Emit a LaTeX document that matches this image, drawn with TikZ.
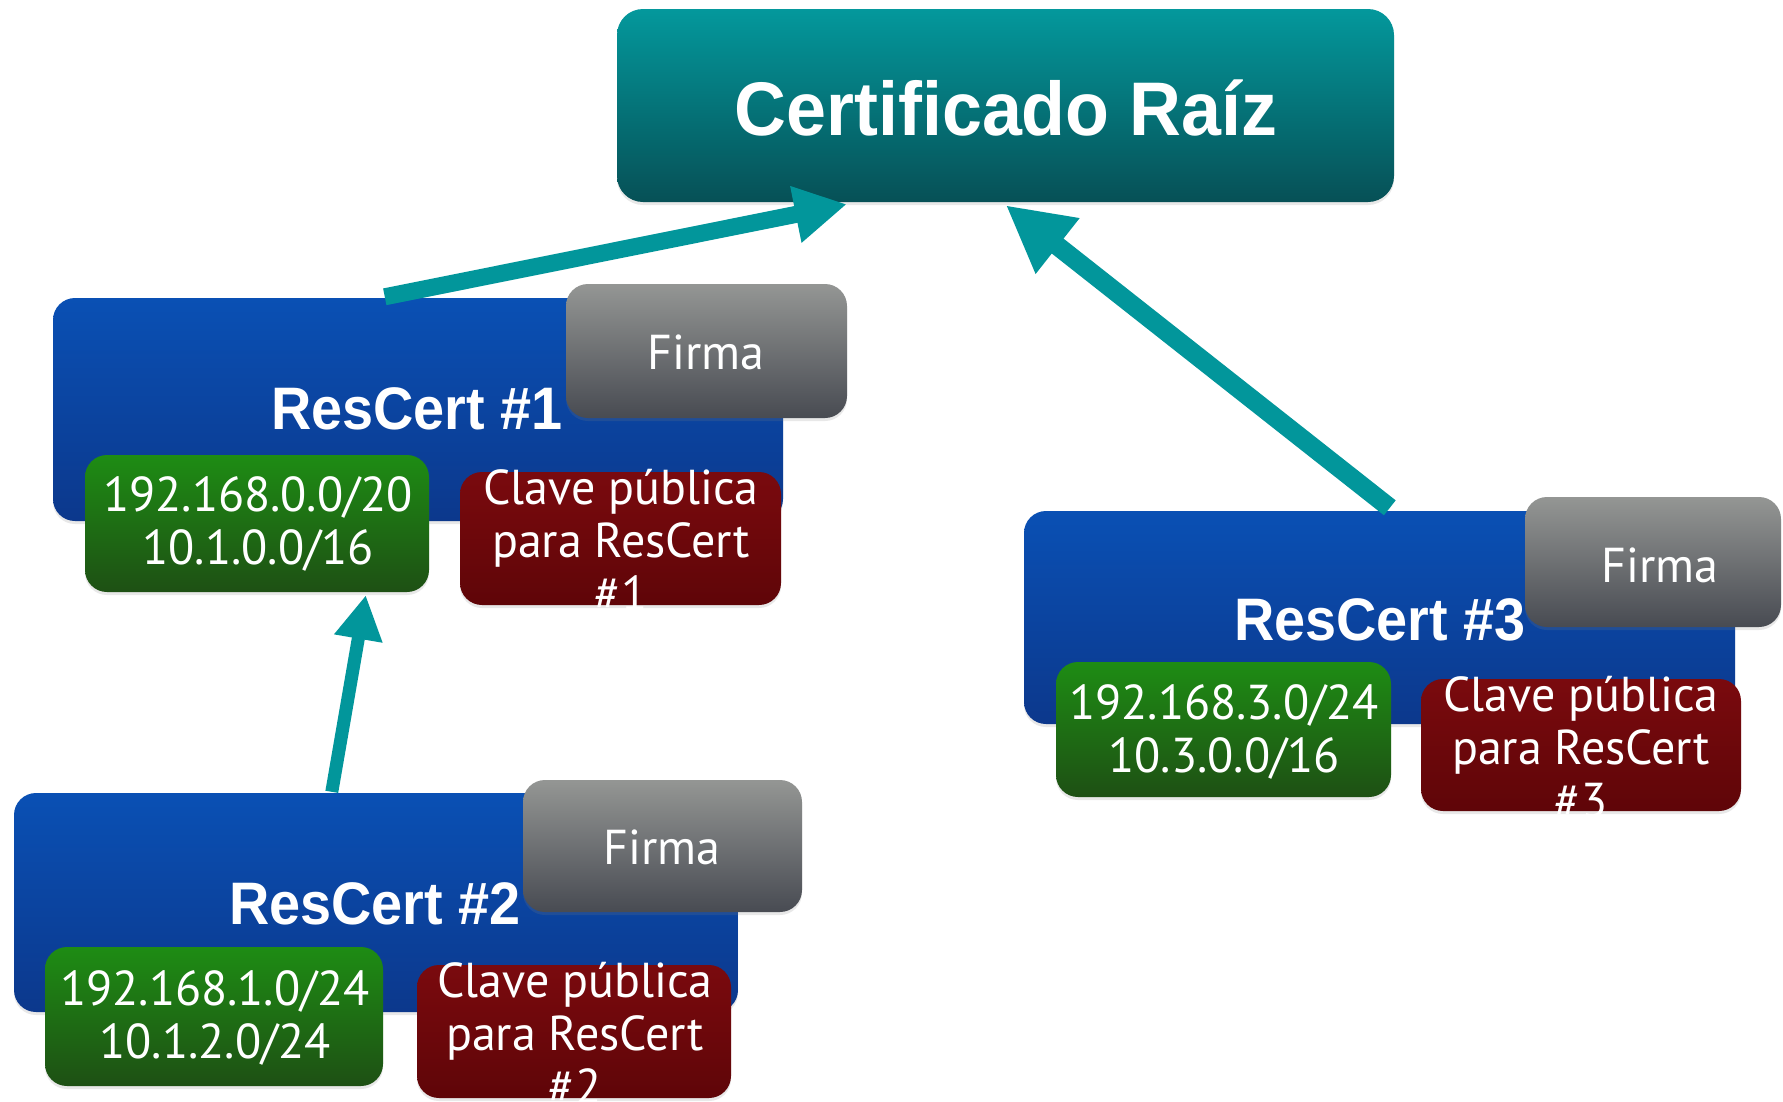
\documentclass[tikz,border=0pt]{standalone}
\usepackage{fontspec}
\usepackage{graphicx}
\usetikzlibrary{arrows.meta,calc,shadows}
\newfontfamily\headfont{Liberation Sans}
\newfontfamily\bodyfont{PT Sans}
\definecolor{rootT}{RGB}{4,152,156}
\definecolor{rootB}{RGB}{6,80,86}
\definecolor{blueT}{RGB}{10,80,180}
\definecolor{blueB}{RGB}{12,56,140}
\definecolor{grayT}{RGB}{148,150,148}
\definecolor{grayB}{RGB}{72,75,82}
\definecolor{greenT}{RGB}{30,140,20}
\definecolor{greenB}{RGB}{30,80,20}
\definecolor{redT}{RGB}{122,10,14}
\definecolor{redB}{RGB}{95,5,8}
\definecolor{teal}{RGB}{2,150,155}
\newcommand\hsq[1]{\scalebox{0.93}[1]{#1}}
\newcommand\rsq[1]{\scalebox{0.945}[1]{#1}}
\newcommand\bsq[1]{\scalebox{0.98}[1]{#1}}
\tikzset{
  card/.style={rectangle, rounded corners=22pt, draw=none, inner sep=0pt,
    drop shadow={shadow xshift=0pt, shadow yshift=-3pt, opacity=0.18}},
  rootbox/.style={card, rounded corners=26pt, top color=rootT, bottom color=rootB},
  bluebox/.style={card, top color=blueT, bottom color=blueB},
  graybox/.style={card, top color=grayT, bottom color=grayB},
  greenbox/.style={card, top color=greenT, bottom color=greenB},
  redbox/.style={card, top color=redT, bottom color=redB},
  roottxt/.style={text=white, font=\headfont\bfseries\fontsize{76}{90}\selectfont, inner sep=0pt},
  titletxt/.style={text=white, font=\headfont\bfseries\fontsize{60}{70}\selectfont, inner sep=0pt},
  bodytxt/.style={text=white, font=\bodyfont\fontsize{49}{53}\selectfont, align=center, inner sep=0pt},
  link/.style={draw=teal, line cap=butt},
}
\begin{document}
\begin{tikzpicture}[x=1pt,y=-1pt]
\useasboundingbox (0,0) rectangle (1783,1101);
\fill[white] (0,0) rectangle (1783,1101);

% root
\node[rootbox, minimum width=777pt, minimum height=193pt] (root) at (1005.5,105.5) {};
\node[roottxt] (roott) at (1006,108) {\rsq{Certificado Raíz}};

% ResCert #1
\node[bluebox, minimum width=730pt, minimum height=223pt] (b1) at (418,409.5) {};
\node[graybox, minimum width=281pt, minimum height=134pt] (f1) at (706.5,351) {};
\node[bodytxt] (f1t) at (706,352) {\bsq{Firma}};
\node[titletxt] (t1) at (417,409) {\hsq{ResCert \#1}};
\node[greenbox, minimum width=344pt, minimum height=137pt] (g1) at (257,523.5) {};
\node[bodytxt] (g1t) at (258,523.5) {\bsq{192.168.0.0/20}\\\bsq{10.1.0.0/16}};
\node[redbox, minimum width=321pt, minimum height=133pt] (r1) at (620.5,538.5) {};
\node[bodytxt] (r1t) at (621,540) {\bsq{Clave pública}\\\bsq{para ResCert}\\\bsq{\#1}};

% ResCert #2
\node[bluebox, minimum width=724pt, minimum height=219pt] (b2) at (376,902.5) {};
\node[graybox, minimum width=279pt, minimum height=132pt] (f2) at (662.5,846) {};
\node[bodytxt] (f2t) at (662,847) {\bsq{Firma}};
\node[titletxt] (t2) at (375,904) {\hsq{ResCert \#2}};
\node[greenbox, minimum width=338pt, minimum height=139pt] (g2) at (214,1016.5) {};
\node[bodytxt] (g2t) at (215,1017.5) {\bsq{192.168.1.0/24}\\\bsq{10.1.2.0/24}};
\node[redbox, minimum width=314pt, minimum height=133pt] (r2) at (574,1031.5) {};
\node[bodytxt] (r2t) at (575,1033) {\bsq{Clave pública}\\\bsq{para ResCert}\\\bsq{\#2}};

% ResCert #3
\node[bluebox, minimum width=711pt, minimum height=213pt] (b3) at (1379.5,617.5) {};
\node[graybox, minimum width=256pt, minimum height=130pt] (f3) at (1653,562) {};
\node[bodytxt] (f3t) at (1660,565) {\bsq{Firma}};
\node[titletxt] (t3) at (1380,620) {\hsq{ResCert \#3}};
\node[greenbox, minimum width=335pt, minimum height=135pt] (g3) at (1223.5,729.5) {};
\node[bodytxt] (g3t) at (1224,731.5) {\bsq{192.168.3.0/24}\\\bsq{10.3.0.0/16}};
\node[redbox, minimum width=320pt, minimum height=132pt] (r3) at (1581,745) {};
\node[bodytxt] (r3t) at (1581,747) {\bsq{Clave pública}\\\bsq{para ResCert}\\\bsq{\#3}};

% connectors
\coordinate (a1s) at ($(b1.north west)+(332,-1)$);
\coordinate (a1e) at ($(root.south west)+(230,2)$);
\coordinate (a2s) at ($(b3.north west)+(366,-3)$);
\coordinate (a2e) at ($(root.south west)+(389,3)$);
\coordinate (a3s) at ($(b2.north west)+(318,-1)$);
\coordinate (a3e) at ($(g1.south west)+(281,3)$);
\draw[link, line width=17pt, -{Triangle[length=52pt,width=54pt]}] (a1s) -- (a1e);
\draw[link, line width=19pt, -{Triangle[length=66pt,width=66pt]}] (a2s) -- (a2e);
\draw[link, line width=13pt, -{Triangle[length=44pt,width=46pt]}] (a3s) -- (a3e);
\end{tikzpicture}
\end{document}
